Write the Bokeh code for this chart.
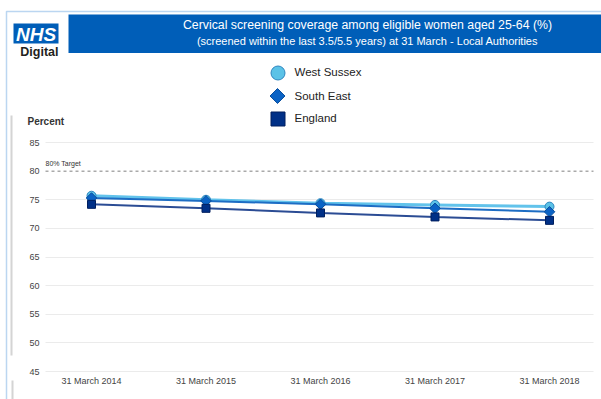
import math
from bokeh.plotting import figure
from bokeh.models import (FixedTicker, Label, BoxAnnotation, Legend, LegendItem,
                          ColumnDataSource, Range1d)
from bokeh.embed import file_html
from bokeh.resources import INLINE

# ---- data -------------------------------------------------------------
periods = ["31 March 2014", "31 March 2015", "31 March 2016", "31 March 2017", "31 March 2018"]
west_sussex = [75.7, 75.0, 74.4, 74.1, 73.8]
south_east = [75.3, 74.8, 74.2, 73.5, 72.9]
england = [74.2, 73.5, 72.7, 72.0, 71.4]
target = 80
y_ticks = [45, 50, 55, 60, 65, 70, 75, 80, 85]

# ---- page geometry (pixels) -------------------------------------------
# The plot frame fills the whole canvas; axes are pinned inside it.
W, H = 601, 399
X0_PX, X_STEP_PX = 91.0, 114.5        # pixel column of the first period, spacing
Y45_PX, Y_UNIT_PX = 371.0, 5.725       # pixel row of 45 %, pixels per percent
X_START, X_END = -X0_PX / X_STEP_PX, (W - X0_PX) / X_STEP_PX
Y_START, Y_END = 45 - (H - Y45_PX) / Y_UNIT_PX, 45 + Y45_PX / Y_UNIT_PX
PLOT_L, PLOT_R = 45, 593               # horizontal extent of the plotting area


def cx(px):
    """canvas pixel column -> data x"""
    return X_START + px / W * (X_END - X_START)


def cy(py):
    """canvas pixel row -> data y"""
    return Y_START + (H - py) / H * (Y_END - Y_START)


FONT = "Liberation Sans"

p = figure(width=W, height=H, output_backend="svg", toolbar_location=None, title=None,
           x_range=Range1d(X_START, X_END), y_range=Range1d(Y_START, Y_END),
           min_border=0, min_border_left=0, min_border_right=0,
           min_border_top=0, min_border_bottom=0)
p.outline_line_color = None
p.background_fill_color = "white"
p.border_fill_color = "white"

# axes, pinned to the edges of the plotting area
p.yaxis.fixed_location = cx(PLOT_L)
p.xaxis.fixed_location = 45
p.yaxis.ticker = FixedTicker(ticks=y_ticks)
p.xaxis.ticker = FixedTicker(ticks=list(range(len(periods))))
p.xaxis.major_label_overrides = {i: lab for i, lab in enumerate(periods)}
for ax in (p.xaxis[0], p.yaxis[0]):
    ax.axis_line_color = None
    ax.major_tick_line_color = None
    ax.minor_tick_line_color = None
    ax.major_tick_out = 0
    ax.major_tick_in = 0
    ax.major_label_text_font = FONT
    ax.major_label_text_font_size = "9px"
    ax.major_label_text_color = "#444444"
p.yaxis.major_label_standoff = 6
p.xaxis.major_label_standoff = 4

p.xgrid.grid_line_color = None
grid = p.ygrid[0]
grid_ticks = [t for t in y_ticks if t != target]
if "cross_bounds" in grid.properties():
    grid.ticker = FixedTicker(ticks=grid_ticks)
    grid.cross_bounds = (cx(PLOT_L), cx(PLOT_R))
    grid.grid_line_color = "#ebebeb"
    grid.grid_line_width = 1
else:
    grid.grid_line_color = None
    p.segment(x0=cx(PLOT_L), x1=cx(PLOT_R), y0=grid_ticks, y1=grid_ticks,
              line_color="#ebebeb", line_width=1)

# 80% target line
p.segment(x0=cx(PLOT_L), x1=cx(PLOT_R), y0=target, y1=target,
          line_color="#aaaaaa", line_width=1.5, line_dash="3 3")
p.add_layout(Label(x=cx(PLOT_L), y=target, y_offset=4, text="80% Target",
                   text_font=FONT, text_font_size="7px", text_color="#333333",
                   text_baseline="bottom", text_align="left"))

# y axis heading
p.add_layout(Label(x=cx(27), y=cy(121), text="Percent", text_font=FONT,
                   text_font_size="10px", text_font_style="bold", text_color="#333333",
                   text_baseline="middle", text_align="left"))

# ---- series -----------------------------------------------------------
xs = list(range(len(periods)))
series = [
    # name, values, line colour, line width, marker, angle, fill, edge, size
    ("West Sussex", west_sussex, "#62c3eb", 3, "circle", 0, "#5bc2e7", "#2f86c0", 9),
    ("South East", south_east, "#1d6dc4", 2, "square", math.pi / 4, "#0b63c5", "#0a4f9e", 7.5),
    ("England", england, "#2b4c94", 2, "square", 0, "#003087", "#001f5e", 8),
]
renderers = {}
for name, vals, lcol, lw, marker, ang, fcol, ecol, size in series:
    src = ColumnDataSource(dict(x=xs, y=vals))
    p.line("x", "y", source=src, line_color=lcol, line_width=lw)
    renderers[name] = p.scatter("x", "y", source=src, marker=marker, size=size, angle=ang,
                                fill_color=fcol, line_color=ecol, line_width=1)

# ---- legend: one single-entry legend per series, stacked at top centre ----
MARK_X, GLYPH = 277, 35
legend_rows = [("West Sussex", 72), ("South East", 95.5), ("England", 118)]

# Legend keys are drawn unrotated, so the diamond key gets its own marker and
# its legend entry keeps an empty, transparent placeholder glyph.
diamond_placeholder = p.scatter(x=[], y=[], marker="square", size=1,
                                fill_alpha=0, line_alpha=0)
se_fill, se_edge = series[1][6], series[1][7]
p.scatter(x=[cx(MARK_X)], y=[cy(95.5)], marker="square", angle=math.pi / 4, size=10.6,
          fill_color=se_fill, line_color=se_edge, line_width=1)

for name, yc in legend_rows:
    r = diamond_placeholder if name == "South East" else renderers[name]
    lg = Legend(items=[LegendItem(label=name, renderers=[r])],
                location=(MARK_X - GLYPH / 2, H - (yc + GLYPH / 2)),
                glyph_width=GLYPH, glyph_height=GLYPH, label_height=GLYPH,
                label_standoff=0, padding=0, margin=0, spacing=0,
                border_line_alpha=0, background_fill_alpha=0,
                label_text_font=FONT, label_text_font_size="11.5px",
                label_text_color="#222222", label_text_baseline="middle")
    p.add_layout(lg)

# ---- header -----------------------------------------------------------
NHS_BLUE = "#005eb8"
# outer frame line
p.add_layout(BoxAnnotation(left=cx(6), right=cx(W + 5), top=cy(11), bottom=cy(H + 5),
                           fill_alpha=0, line_color="#1f78d1", line_width=1.5))
# side rules
p.add_layout(BoxAnnotation(left=cx(10), right=cx(12), top=cy(115), bottom=cy(355),
                           fill_color="#d4d4d4", fill_alpha=1, line_alpha=0))
p.add_layout(BoxAnnotation(left=cx(11), right=cx(13), top=cy(380), bottom=cy(H + 2),
                           fill_color="#d4d4d4", fill_alpha=1, line_alpha=0))
# title banner
p.add_layout(BoxAnnotation(left=cx(68), right=cx(W + 2), top=cy(14), bottom=cy(52.5),
                           fill_color=NHS_BLUE, fill_alpha=1, line_alpha=0))
p.add_layout(Label(x=cx(367), y=cy(24.5), text="Cervical screening coverage among eligible women aged 25-64 (%)",
                   text_font=FONT, text_font_size="12.3px", text_color="white",
                   text_align="center", text_baseline="middle"))
p.add_layout(Label(x=cx(367), y=cy(40.5), text="(screened within the last 3.5/5.5 years) at 31 March - Local Authorities",
                   text_font=FONT, text_font_size="11px", text_color="white",
                   text_align="center", text_baseline="middle"))
# logo
p.add_layout(BoxAnnotation(left=cx(13), right=cx(58), top=cy(23), bottom=cy(43),
                           fill_color=NHS_BLUE, fill_alpha=1, line_alpha=0))
p.add_layout(Label(x=cx(35.5), y=cy(33.5), text="NHS", text_font=FONT,
                   text_font_size="19px", text_font_style="bold italic", text_color="white",
                   text_align="center", text_baseline="middle"))
p.add_layout(Label(x=cx(58), y=cy(51), text="Digital", text_font=FONT,
                   text_font_size="12.5px", text_font_style="bold", text_color="#231f20",
                   text_align="right", text_baseline="middle"))

open("out.html", "w").write(file_html(p, INLINE))
